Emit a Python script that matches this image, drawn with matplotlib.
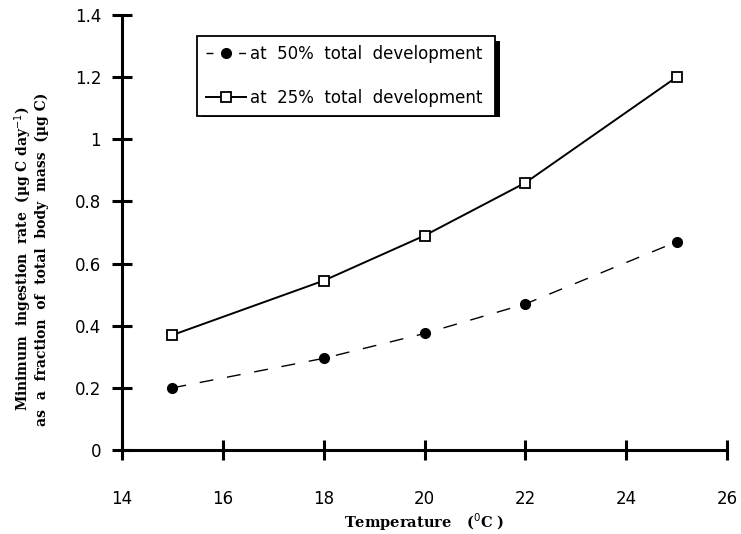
import matplotlib
matplotlib.use("Agg")
import matplotlib.pyplot as plt
from matplotlib.patches import Rectangle

temps = [15, 18, 20, 22, 25]
dev50 = [0.20, 0.295, 0.375, 0.47, 0.67]
dev25 = [0.37, 0.545, 0.69, 0.86, 1.20]
xticks = [14, 16, 18, 20, 22, 24, 26]
yticks = [0, 0.2, 0.4, 0.6, 0.8, 1.0, 1.2, 1.4]
ytick_labels = ["0", "0.2", "0.4", "0.6", "0.8", "1", "1.2", "1.4"]
label50 = "at  50%  total  development"
label25 = "at  25%  total  development"

fig = plt.figure(figsize=(7.41, 5.34), dpi=100)
ax = fig.add_axes([122 / 741, 84 / 534, 605 / 741, 435 / 534])

ax.plot(temps, dev50, linestyle=(0, (10, 10)), color="black", lw=1.0,
        marker="o", markersize=7, markerfacecolor="black", label=label50)
ax.plot(temps, dev25, linestyle="-", color="black", lw=1.4,
        marker="s", markersize=6.5, markerfacecolor="white", markeredgewidth=1.3,
        label=label25)

ax.set_xlim(14, 26)
ax.set_ylim(0, 1.4)
ax.set_xticks(xticks)
ax.set_yticks(yticks)
ax.set_yticklabels(ytick_labels)
for s in ["top", "right"]:
    ax.spines[s].set_visible(False)
for s in ["left", "bottom"]:
    ax.spines[s].set_linewidth(2.2)
ax.tick_params(axis="both", direction="inout", length=14, width=2.2,
               labelsize=12, labelfontfamily="DejaVu Sans")
ax.tick_params(axis="x", pad=22)
ax.tick_params(axis="y", pad=8)

ax.set_xlabel("Temperature   ($^{0}$C )", fontfamily="DejaVu Serif",
              fontweight="bold", fontsize=10.5, labelpad=2)
fig.text(0.042, 0.515,
         "Minimum  ingestion  rate  (µg C day$^{-1}$)\nas  a  fraction  of  total  body  mass  (µg C)",
         rotation=90, ha="center", va="center", fontfamily="DejaVu Serif",
         fontweight="bold", fontsize=10, linespacing=1.05)

# legend box spans from x=197 to 495 px, top at 36 px
lx0 = (197 - 122) / 605
lw_ = (495 - 197) / 605
ltop = (450 - 36) / 435
lh = 76 / 435
leg = ax.legend(loc="upper left", bbox_to_anchor=(lx0, ltop - lh, lw_, lh),
                mode="expand", borderaxespad=0, fancybox=False,
                edgecolor="black", framealpha=1,
                prop={"family": "DejaVu Sans", "size": 12},
                handlelength=2.4, handletextpad=0.2, labelspacing=1.55,
                borderpad=0.55)
leg.get_frame().set_linewidth(1.3)
leg.set_zorder(5)
leg.get_lines()[0].set_linestyle((0, (5, 18.5)))
# drop shadow of the legend box
ax.add_patch(Rectangle((lx0 + 5 / 605, ltop - lh - 5 / 435), lw_, lh,
                       transform=ax.transAxes, facecolor="black",
                       edgecolor="none", clip_on=False, zorder=4))

fig.savefig("out.png", dpi=100)
